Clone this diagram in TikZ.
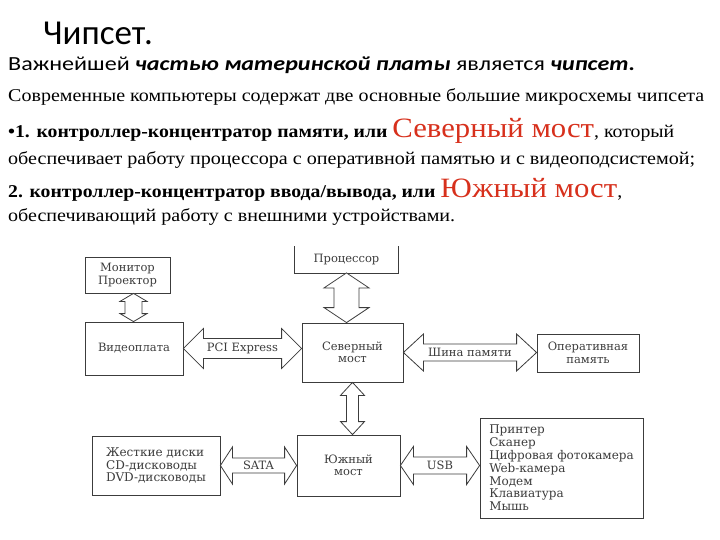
\documentclass[tikz,border=0pt]{standalone}
\usepackage{fontspec}
\setmainfont{Liberation Serif}
\newfontfamily\calibri{Carlito}
\newfontfamily\scanfont{DejaVu Serif}
\usetikzlibrary{calc}
\definecolor{mostred}{RGB}{215,48,28}
\definecolor{scangray}{RGB}{60,60,60}
% строка текста, сжатая по ширине
\newcommand{\fitline}[2]{\resizebox{#1}{\height}{#2}}
% двойная стрелка-шина: горизонтальная и вертикальная
\newcommand{\hbus}[5]{%
  \draw[bus] (#1) -- ($(#1)+(#5,#4)$) -- ($(#1)+(#5,#3)$) -- ($(#2)+(-#5,#3)$)
    -- ($(#2)+(-#5,#4)$) -- (#2) -- ($(#2)+(-#5,-#4)$) -- ($(#2)+(-#5,-#3)$)
    -- ($(#1)+(#5,-#3)$) -- ($(#1)+(#5,-#4)$) -- cycle;}
\newcommand{\vbus}[5]{%
  \draw[bus] (#1) -- ($(#1)+(#4,#5)$) -- ($(#1)+(#3,#5)$) -- ($(#2)+(#3,-#5)$)
    -- ($(#2)+(#4,-#5)$) -- (#2) -- ($(#2)+(-#4,-#5)$) -- ($(#2)+(-#3,-#5)$)
    -- ($(#1)+(-#3,#5)$) -- ($(#1)+(-#4,#5)$) -- cycle;}
\begin{document}
\begin{tikzpicture}[x=1pt, y=-1pt,
    box/.style={draw=scangray, line width=0.8pt, inner sep=0pt, text=scangray,
      font=\scanfont\fontsize{11.5}{12.5}\selectfont},
    list/.style={box, font=\scanfont\fontsize{12}{12.8}\selectfont, align=left},
    bus/.style={draw=scangray, line width=0.8pt, fill=white, line join=miter},
    buslabel/.style={inner sep=0pt, text=scangray, font=\scanfont\fontsize{11.5}{12}\selectfont},
    txt/.style={anchor=base west, inner sep=0pt, font=\fontsize{18}{20}\selectfont}]
  \useasboundingbox (0,0) rectangle (720,540);

  % Заголовок и текст
  \node[anchor=base west, inner sep=0pt, font=\calibri\fontsize{35}{38}\selectfont] (title) at (43,45) {Чипсет.};
  \node[txt, font=\calibri\fontsize{20}{22}\selectfont] (l2) at (8,71)
    {\fitline{627pt}{Важнейшей \textbf{\textit{частью материнской платы}} является \textbf{\textit{чипсет.}}}};
  \node[txt] (l3) at (8,102)
    {\fitline{696pt}{Современные компьютеры содержат две основные большие микросхемы чипсета}};
  \node[txt] (l4) at (8,138)
    {\fitline{666pt}{\textbf{•1. контроллер-концентратор памяти, или} {\color{mostred}\fontsize{28}{30}\selectfont Северный мост}, который}};
  \node[txt] (l5) at (8,165)
    {\fitline{687pt}{обеспечивает работу процессора с оперативной памятью и с видеоподсистемой;}};
  \node[txt] (l6) at (8,197)
    {\fitline{614pt}{\textbf{2. контроллер-концентратор ввода/вывода, или} {\color{mostred}\fontsize{28}{30}\selectfont Южный мост},}};
  \node[txt] (l7) at (8,222)
    {\fitline{447pt}{обеспечивающий работу с внешними устройствами.}};

  % Блоки схемы
  \node[box, minimum width=85, minimum height=36, align=center] (mon) at (127.5,275) {Монитор\\Проектор};
  \node[box, minimum width=98, minimum height=53] (vid) at (134,348.5) {Видеоплата};
  \node[box, draw=none, minimum width=103, minimum height=26] (cpu) at (346.5,259.5) {Процессор};
  \draw[scangray, line width=0.8pt] (cpu.north west) -- (cpu.south west) -- (cpu.south east) -- (cpu.north east);
  \node[box, minimum width=101, minimum height=59, align=center] (nb) at (352.5,352.5) {Северный\\мост};
  \node[box, minimum width=102, minimum height=38, align=center] (ram) at (588,353) {Оперативная\\память};
  \node[box, minimum width=103, minimum height=61, align=center] (sb) at (348.5,465.5) {Южный\\мост};
  \node[list, minimum width=128, minimum height=59] (hdd) at (156,465.5)
    {Жесткие диски\\CD-дисководы\\DVD-дисководы};
  \node[list, minimum width=163, minimum height=100] (dev) at (561.5,468)
    {Принтер\\Сканер\\Цифровая фотокамера\\Web-камера\\Модем\\Клавиатура\\Мышь};

  % Шины
  \coordinate (montop) at ($(mon.south)+(6,0)$);
  \vbus{montop}{montop |- vid.north}{8.5}{13.5}{8}
  \vbus{cpu.south}{cpu.south |- nb.north}{12.5}{22.5}{15}
  \vbus{nb.south}{nb.south |- sb.north}{6}{12}{13}
  \hbus{vid.east}{vid.east -| nb.west}{10}{20}{20}
  \hbus{nb.east}{nb.east -| ram.west}{8.5}{18.5}{20}
  \hbus{hdd.east}{hdd.east -| sb.west}{7.5}{18.5}{12}
  \hbus{sb.east}{sb.east -| dev.west}{8.5}{19}{13}

  % Подписи шин
  \node[buslabel] (pci) at ($(vid.east)!0.5!(vid.east -| nb.west)$) {PCI Express};
  \node[buslabel] (mem) at ($(nb.east)!0.5!(nb.east -| ram.west)$) {Шина памяти};
  \node[buslabel] (sata) at ($(hdd.east)!0.5!(hdd.east -| sb.west)$) {SATA};
  \node[buslabel] (usb) at ($(sb.east)!0.5!(sb.east -| dev.west)$) {USB};
\end{tikzpicture}
\end{document}
